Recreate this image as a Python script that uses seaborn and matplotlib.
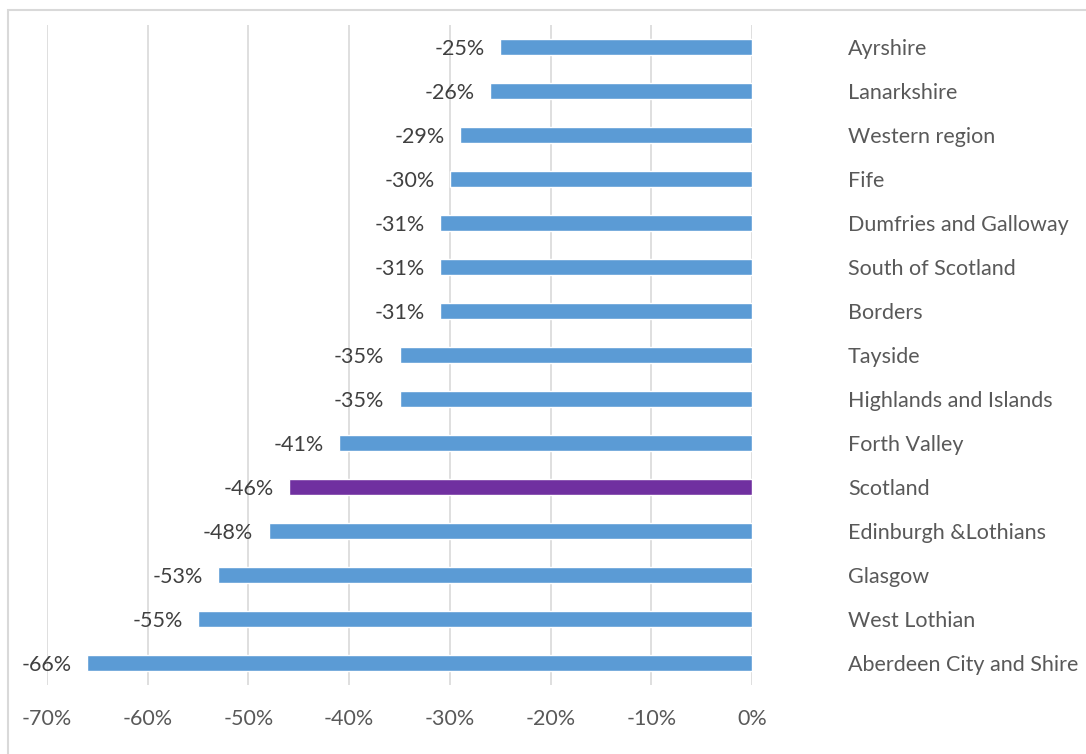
import numpy as np
import pandas as pd
import matplotlib.pyplot as plt
import seaborn as sns
from matplotlib.patches import Rectangle

sns.set_theme(style="white")
plt.rcParams['font.family'] = ['Lato', 'DejaVu Sans']

# Regions and change (%), top to bottom as drawn
regions = ['Ayrshire', 'Lanarkshire', 'Western region', 'Fife',
           'Dumfries and Galloway', 'South of Scotland', 'Borders', 'Tayside',
           'Highlands and Islands', 'Forth Valley', 'Scotland',
           'Edinburgh &Lothians', 'Glasgow', 'West Lothian',
           'Aberdeen City and Shire']
change = [-25, -26, -29, -30, -31, -31, -31, -35, -35, -41, -46, -48, -53, -55, -66]
x_ticks = [-70, -60, -50, -40, -30, -20, -10, 0]

df = pd.DataFrame({'region': regions, 'change': change})
palette = {r: ('#7030A0' if r == 'Scotland' else '#5B9BD5') for r in regions}

fs = 15.5

fig = plt.figure(figsize=(10.86, 7.54), dpi=100)
ax = fig.add_axes([47 / 1086, 1 - 685 / 754, (752 - 47) / 1086, (685 - 25) / 754])

sns.barplot(data=df, x='change', y='region', hue='region', palette=palette,
            legend=False, width=0.37, orient='h', ax=ax, saturation=1)

ax.set_xlim(-70, 0)
ax.set_ylim(len(regions) - 0.5, -0.5)
ax.set_xticks(x_ticks)
ax.set_xticklabels([f'{t}%' for t in x_ticks], fontsize=fs, color='#595959')
ax.tick_params(axis='x', length=0, pad=17)
ax.xaxis.grid(True, color='#D9D9D9', lw=1.2)
ax.set_axisbelow(True)

ax.yaxis.tick_right()
ax.set_yticks(range(len(regions)))
ax.set_yticklabels(regions, fontsize=fs, color='#595959')
ax.tick_params(axis='y', length=0, pad=69)
for s in ax.spines.values():
    s.set_visible(False)
ax.set_xlabel('')
ax.set_ylabel('')

for i, v in enumerate(change):
    ax.annotate(f'{v}%', (v, i), xytext=(-11, 0), textcoords='offset points',
                ha='right', va='center_baseline', fontsize=fs, color='#404040')

fig.patches.append(Rectangle((8 / 1086, -0.1), 1.2, 1 - 10 / 754 + 0.1,
                             transform=fig.transFigure, fill=False,
                             edgecolor='#D9D9D9', lw=1.5))

fig.savefig('out.png', dpi=100)
